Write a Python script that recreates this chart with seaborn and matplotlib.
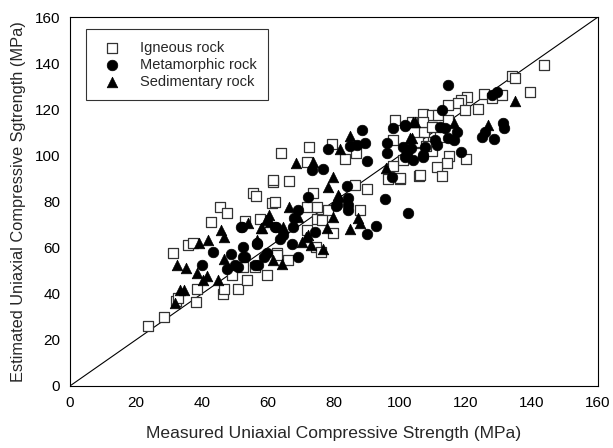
import matplotlib
matplotlib.use("Agg")
import matplotlib.pyplot as plt
import seaborn as sns
import pandas as pd

sns.set_style("white")
plt.rcParams['font.family'] = ['Liberation Sans', 'DejaVu Sans']

igneous_x = [23.6, 28.4, 32.3, 32.8, 38.2, 38.5, 31.2, 35.8, 37.3, 42.7, 45.5, 47.6, 46.5, 46.7, 49, 51,
             53.6, 52.4, 56, 59.7, 62.7, 66, 53, 57.6, 61.2, 62, 55.5, 56.4, 61.5, 61.5, 66.4, 64, 72.5,
             79.4, 83.3, 86.7, 71.8, 73.6, 71.7, 74.9, 78.2, 74.9, 76.5, 79.8, 71.8, 74.5, 76.2, 62.6, 88,
             86.4, 90, 98.5, 103.6, 107, 107.3, 98, 101, 98, 96.4, 100, 105.8, 104.8, 143.6, 134, 135,
             139.4, 125.5, 127.9, 120.3, 118.5, 117.6, 119.7, 123.6, 114.5, 109.7, 111.5, 114.5, 107,
             109.7, 110, 105.5, 109.7, 115, 114.2, 120, 111.2, 112.7, 106, 100, 131, 108, 112]
igneous_y = [26, 30, 37, 38, 36.4, 42, 57.6, 61, 62, 71, 77.6, 75, 40, 42, 48, 42,
             46, 51.6, 51.6, 48, 57.7, 54.6, 71.6, 72.4, 79.4, 80, 83.7, 82.4, 88.5, 89.3, 89, 101, 103.8,
             105, 98.5, 101, 97, 83.6, 77.7, 77.6, 76.3, 72.4, 72, 66.2, 67.6, 60.3, 58.1, 57, 76.3,
             87, 85.4, 115.4, 114.5, 118, 110, 106.7, 98, 95.4, 89.8, 89.8, 91, 101, 139, 134.5, 133.5,
             127.5, 126.6, 124.9, 125.3, 124, 122.7, 119.7, 120, 121.8, 117.5, 117.5, 115.3, 114.5,
             112.3, 105.8, 105.8, 102, 99.7, 96.7, 98.4, 95, 91, 91.5, 90, 126, 104, 108]

meta_x = [43.3, 40, 47.5, 48.8, 52.4, 52.4, 51, 51.8, 56.7, 56, 58.8, 59.7, 62, 63.6, 50, 52, 78.2,
          73.3, 76.7, 88.5, 87, 89.4, 85, 90, 84, 84.3, 84.3, 84.3, 80.6, 72, 69, 68, 67.6, 64.5, 67.3,
          62.4, 74.2, 69, 56.7, 90, 92.7, 95.5, 102.4, 97.6, 96, 96, 98, 101.5, 101, 102, 104, 103.5,
          107, 114.5, 129.3, 128, 101.5, 112.7, 112, 113.6, 117.3, 114.5, 116.4, 110.6, 111.2, 107.6,
          107, 101.5, 118.5, 124.8, 125.8, 131.2, 131.5, 128.5, 81, 57, 53]
meta_y = [58, 52.5, 50.7, 57.2, 60.3, 55.9, 51.6, 69, 61.6, 52.5, 55.9, 57.7, 69, 63.7, 52.5, 69, 102.8,
          93.7, 94, 111, 104.5, 105.4, 104, 97.6, 86.7, 81.5, 78.5, 76.3, 78, 82, 76.3, 72.8, 69, 65.5, 61.6,
          69, 66.8, 56, 62, 66, 69.4, 81, 75, 90.6, 105.3, 101, 111.8, 112.8, 103.8, 101, 98, 103,
          100, 130.5, 127.5, 126, 113, 119.7, 112.4, 112, 110, 107.5, 106.7, 106.7, 104.5, 103.6,
          99.3, 99.3, 101.5, 108, 110, 114, 112, 107, 78.5, 52.5, 56]

sed_x = [31.8, 32.4, 35.2, 33.3, 34.5, 39, 41.8, 45.8, 46.7, 38.5, 40.3, 41.5, 46.7, 45, 57.9, 60.3,
         59.5, 56.7, 61.5, 68.5, 73.6, 79.7, 78.2, 81.2, 85, 81.8, 66.4, 60.6, 64.5, 69, 79.7, 77.9,
         87.3, 88, 84.8, 72, 70.3, 73, 76.7, 64.2, 54, 58.2, 103.6, 104.5, 95.8, 135, 126.7, 104, 103,
         116.4, 81.5, 71.5]
sed_y = [36, 52.5, 51.2, 41.6, 41.6, 62, 63.3, 67.6, 64.6, 49, 46, 47.5, 55, 46, 68.5, 74.2,
         72, 63.3, 54.6, 96.7, 97, 90.6, 86.3, 82.8, 108.4, 102.8, 77.6, 71, 69, 73.3, 73.3, 68.5,
         72.8, 70.7, 68, 65.5, 62.4, 61, 59.4, 52.9, 70.7, 68.5, 107.5, 114.5, 94.5, 123.6, 113.2, 114.5, 107.5,
         114, 82, 64.6]

line_vals = [0, 160]
ticks = [0, 20, 40, 60, 80, 100, 120, 140, 160]

fig = plt.figure(figsize=(6.13, 4.48), dpi=100)
ax = fig.add_axes([0.114, 0.1384, 0.8615, 0.8236])

ax.plot(line_vals, line_vals, color='black', lw=0.8, zorder=1)

sns.scatterplot(x=igneous_x, y=igneous_y, ax=ax, marker='s', s=42, facecolor='white',
                edgecolor='#333333', linewidth=0.9, label='Igneous rock', zorder=3)
sns.scatterplot(x=meta_x, y=meta_y, ax=ax, marker='o', s=58, color='black',
                edgecolor='black', linewidth=0.5, label='Metamorphic rock', zorder=3)
sns.scatterplot(x=sed_x, y=sed_y, ax=ax, marker='^', s=58, color='black',
                edgecolor='black', linewidth=0.5, label='Sedimentary rock', zorder=3)

ax.set_xlim(0, 160)
ax.set_ylim(0, 160)
ax.set_xticks(ticks)
ax.set_yticks(ticks)
ax.tick_params(direction='in', length=4, width=0.8, labelsize=11, color='black',
               labelcolor='black', pad=7)
for sp in ax.spines.values():
    sp.set_color('black')
    sp.set_linewidth(0.8)
ax.set_xlabel('Measured Uniaxial Compressive Strength (MPa)', fontsize=12.6, labelpad=12)
ax.set_ylabel('Estimated Uniaxial Compressive Sgtrength (MPa)', fontsize=11.8, labelpad=6)

leg = ax.legend(loc='upper left', bbox_to_anchor=(0.025, 0.975), fontsize=10.5, frameon=True,
                fancybox=False, edgecolor='black', handletextpad=0.9, borderpad=0.8,
                labelspacing=0.2, borderaxespad=0.2)
leg.get_frame().set_linewidth(0.8)

fig.savefig('out.png', dpi=100)
